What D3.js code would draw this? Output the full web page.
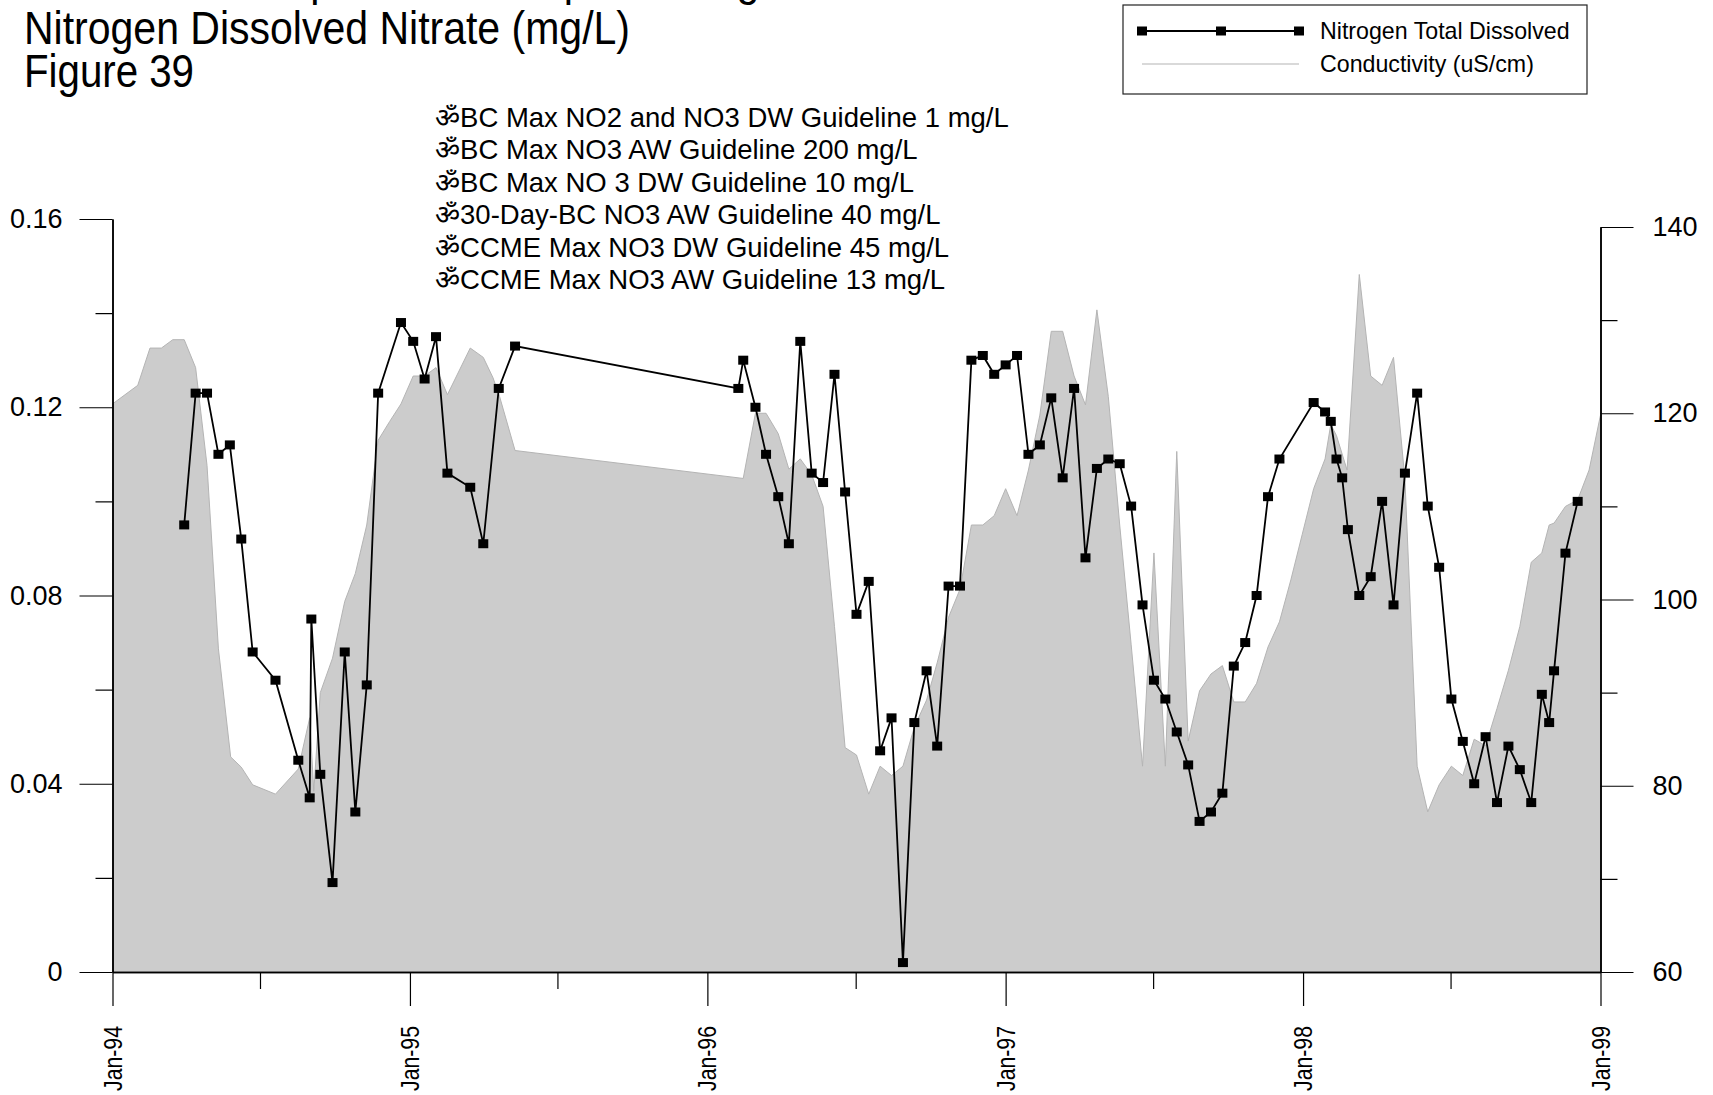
<!DOCTYPE html>
<html>
<head>
<meta charset="utf-8">
<script src="https://cdn.jsdelivr.net/npm/d3@7"></script>
<style>
  html, body { margin: 0; padding: 0; background: #fff; overflow: hidden; }
  svg { display: block; font-family: "Liberation Sans", Arial, "Noto Sans", sans-serif; }
</style>
</head>
<body>
<svg id="chart" width="1713" height="1095"></svg>
<script>
// ---------------- data ----------------
const titleLines = ["Temperature Comparison Against", "Nitrogen Dissolved Nitrate (mg/L)", "Figure 39"];
const guidelineLines = [
  "\u0950BC Max NO2 and NO3 DW Guideline 1 mg/L",
  "\u0950BC Max NO3 AW Guideline 200 mg/L",
  "\u0950BC Max NO 3 DW Guideline 10 mg/L",
  "\u095030-Day-BC NO3 AW Guideline 40 mg/L",
  "\u0950CCME Max NO3 DW Guideline 45 mg/L",
  "\u0950CCME Max NO3 AW Guideline 13 mg/L"
];
const legendLabels = ["Nitrogen Total Dissolved", "Conductivity (uS/cm)"];

const leftTicks = [0, 0.04, 0.08, 0.12, 0.16];
const leftMinorTicks = [0.02, 0.06, 0.10, 0.14];
const rightTicks = [60, 80, 100, 120, 140];
const rightMinorTicks = [70, 90, 110, 130];
const xTickLabels = ["Jan-94", "Jan-95", "Jan-96", "Jan-97", "Jan-98", "Jan-99"];
const xTickDates = ["1994-01-01", "1995-01-01", "1996-01-01", "1997-01-01", "1998-01-01", "1999-01-01"];
const xMinorDates = ["1994-07-01", "1995-07-01", "1996-07-01", "1997-07-01", "1998-07-01"];

const nitroDates = ["1994-03-30","1994-04-13","1994-04-27","1994-05-11","1994-05-25","1994-06-08","1994-06-22","1994-07-20","1994-08-17","1994-08-31","1994-09-02","1994-09-13","1994-09-28","1994-10-13","1994-10-26","1994-11-09","1994-11-23","1994-12-21","1995-01-05","1995-01-19","1995-02-02","1995-02-16","1995-03-16","1995-04-01","1995-04-20","1995-05-10",
"1996-02-08","1996-02-14","1996-02-29","1996-03-13","1996-03-28","1996-04-10","1996-04-24","1996-05-08","1996-05-22","1996-06-05","1996-06-18","1996-07-02","1996-07-17","1996-07-31","1996-08-14","1996-08-28","1996-09-11","1996-09-26","1996-10-09","1996-10-23","1996-11-06","1996-11-20","1996-12-04","1996-12-18",
"1997-01-01","1997-01-15","1997-01-29","1997-02-12","1997-02-26","1997-03-12","1997-03-26","1997-04-09","1997-04-23","1997-05-07","1997-05-21","1997-06-04","1997-06-18","1997-07-02","1997-07-16","1997-07-30","1997-08-13","1997-08-27","1997-09-10","1997-09-24","1997-10-08","1997-10-22","1997-11-05","1997-11-19","1997-12-03",
"1998-01-14","1998-01-28","1998-02-04","1998-02-11","1998-02-18","1998-02-25","1998-03-11","1998-03-25","1998-04-08","1998-04-22","1998-05-06","1998-05-21","1998-06-03","1998-06-17","1998-07-02","1998-07-16","1998-07-30","1998-08-13","1998-08-27","1998-09-10","1998-09-24","1998-10-08","1998-10-21","1998-10-30","1998-11-05","1998-11-19","1998-12-04"];
const nitroValues = [0.095,0.123,0.123,0.110,0.112,0.092,0.068,0.062,0.045,0.037,0.075,0.042,0.019,0.068,0.034,0.061,0.123,0.138,0.134,0.126,0.135,0.106,0.103,0.091,0.124,0.133,
0.124,0.130,0.120,0.110,0.101,0.091,0.134,0.106,0.104,0.127,0.102,0.076,0.083,0.047,0.054,0.002,0.053,0.064,0.048,0.082,0.082,0.130,0.131,0.127,
0.129,0.131,0.110,0.112,0.122,0.105,0.124,0.088,0.107,0.109,0.108,0.099,0.078,0.062,0.058,0.051,0.044,0.032,0.034,0.038,0.065,0.070,0.080,0.101,0.109,
0.121,0.119,0.117,0.109,0.105,0.094,0.080,0.084,0.100,0.078,0.106,0.123,0.099,0.086,0.058,0.049,0.040,0.050,0.036,0.048,0.043,0.036,0.059,0.053,0.064,0.089,0.100];

const condDates = ["1994-01-01","1994-02-01","1994-02-16","1994-03-02","1994-03-16","1994-03-30","1994-04-13","1994-04-27","1994-05-11","1994-05-26","1994-06-08","1994-06-22","1994-07-20","1994-08-17","1994-08-31","1994-09-05","1994-09-13","1994-09-28","1994-10-13","1994-10-26","1994-11-09","1994-11-23","1994-12-07","1994-12-21",
"1995-01-05","1995-01-19","1995-02-02","1995-02-16","1995-03-16","1995-04-01","1995-04-13","1995-04-21","1995-05-10",
"1996-02-14","1996-02-29","1996-03-13","1996-03-28","1996-04-10","1996-04-24","1996-05-08","1996-05-22","1996-06-05","1996-06-18","1996-07-02","1996-07-17","1996-07-31","1996-08-14","1996-08-28","1996-09-11","1996-09-26","1996-10-09","1996-10-23","1996-11-06","1996-11-20","1996-12-04","1996-12-18",
"1997-01-01","1997-01-15","1997-01-29","1997-02-12","1997-02-26","1997-03-12","1997-03-26","1997-04-09","1997-04-23","1997-05-07","1997-05-21","1997-06-04","1997-06-18","1997-07-02","1997-07-16","1997-07-30","1997-08-13","1997-08-27","1997-09-10","1997-09-24","1997-10-08","1997-10-22","1997-11-05","1997-11-19","1997-12-03","1997-12-17","1997-12-31",
"1998-01-14","1998-01-28","1998-02-04","1998-02-11","1998-02-24","1998-03-11","1998-03-25","1998-04-08","1998-04-22","1998-05-06","1998-05-21","1998-06-03","1998-06-17","1998-07-02","1998-07-16","1998-07-30","1998-08-13","1998-08-27","1998-09-10","1998-09-24","1998-10-08","1998-10-21","1998-10-30","1998-11-05","1998-11-19","1998-12-04","1998-12-18",
"1999-01-01"];
const condValues = [121.0,123.0,127.0,127.0,127.9,127.9,124.9,114.4,94.7,83.1,82.0,80.1,79.1,81.8,87.3,79.4,90.0,93.7,99.8,102.8,108.0,117.1,119.1,121.0,
124.0,124.0,124.9,122.0,127.0,126.0,123.8,121.8,116.0,
113.0,120.0,120.0,117.8,114.0,115.1,113.4,110.0,97.1,84.1,83.3,79.1,82.1,81.1,82.1,86.3,89.2,93.2,98.1,101.1,108.0,108.0,109.0,
111.9,109.0,113.9,119.8,128.8,128.8,124.0,120.9,131.1,121.8,108.0,95.2,82.1,105.0,82.1,115.9,84.8,90.2,92.0,92.9,89.0,89.0,91.0,94.9,97.6,102.1,107.0,
111.9,115.1,118.8,117.6,113.9,134.9,124.0,123.0,126.0,112.9,82.1,77.2,80.1,82.1,81.1,85.0,84.3,88.3,92.4,97.1,104.0,105.0,108.0,108.2,110.0,110.7,113.9,
119.8];

// ---------------- build ----------------
const parse = d3.timeParse("%Y-%m-%d");
const nitro = nitroDates.map((d, i) => ({ date: parse(d), value: nitroValues[i] }));
const cond = condDates.map((d, i) => ({ date: parse(d), value: condValues[i] }));

const svg = d3.select("#chart");
const FONT = "'Liberation Sans', Arial, 'Noto Sans', sans-serif";

const x = d3.scaleTime().domain([parse("1994-01-01"), parse("1999-01-01")]).range([112.5, 1600.5]);
const yL = d3.scaleLinear().domain([0, 0.16]).range([972, 219]);
const yR = d3.scaleLinear().domain([60, 140]).range([972, 227]);

// conductivity area
const area = d3.area().x(d => x(d.date)).y0(yR(60)).y1(d => yR(d.value));
const areaLine = d3.line().x(d => x(d.date)).y(d => yR(d.value));
svg.append("path").datum(cond).attr("d", area).attr("fill", "#cccccc");
svg.append("path").datum(cond).attr("d", areaLine).attr("fill", "none").attr("stroke", "#b4b4b4").attr("stroke-width", 1);

// axes
function styleAxis(g, fs) {
  g.selectAll("path.domain").attr("stroke", "#000").attr("stroke-width", 1.5);
  g.selectAll(".tick line").attr("stroke", "#000").attr("stroke-width", 1.2);
  g.selectAll(".tick text").attr("fill", "#000").style("font-family", FONT).style("font-size", fs + "px");
}
const fmtL = d => d === 0 ? "0" : d3.format(".2f")(d);

const gL = svg.append("g").attr("transform", "translate(112.5,0)")
  .call(d3.axisLeft(yL).tickValues(leftTicks).tickFormat(fmtL).tickSize(33).tickSizeOuter(0).tickPadding(17));
styleAxis(gL, 27);
const gLm = svg.append("g").attr("transform", "translate(112.5,0)")
  .call(d3.axisLeft(yL).tickValues(leftMinorTicks).tickFormat("").tickSize(17).tickSizeOuter(0));
styleAxis(gLm, 27);

const gR = svg.append("g").attr("transform", "translate(1600.5,0)")
  .call(d3.axisRight(yR).tickValues(rightTicks).tickSize(33).tickSizeOuter(0).tickPadding(19));
styleAxis(gR, 27);
const gRm = svg.append("g").attr("transform", "translate(1600.5,0)")
  .call(d3.axisRight(yR).tickValues(rightMinorTicks).tickFormat("").tickSize(17).tickSizeOuter(0));
styleAxis(gRm, 27);

const gX = svg.append("g").attr("transform", "translate(0,972)")
  .call(d3.axisBottom(x).tickValues(xTickDates.map(parse)).tickFormat("").tickSize(34).tickSizeOuter(0));
styleAxis(gX, 26);
const gXm = svg.append("g").attr("transform", "translate(0,972)")
  .call(d3.axisBottom(x).tickValues(xMinorDates.map(parse)).tickFormat("").tickSize(17).tickSizeOuter(0));
styleAxis(gXm, 26);

// rotated x labels
svg.append("g").selectAll("text").data(xTickDates).join("text")
  .attr("transform", d => `translate(${x(parse(d)) + 9},1026) rotate(-90)`)
  .attr("text-anchor", "end")
  .attr("textLength", 65).attr("lengthAdjust", "spacingAndGlyphs")
  .style("font-family", FONT).style("font-size", "25px")
  .text((d, i) => xTickLabels[i]);

// nitrogen line + markers
const line = d3.line().x(d => x(d.date)).y(d => yL(d.value));
svg.append("path").datum(nitro).attr("d", line).attr("fill", "none").attr("stroke", "#000").attr("stroke-width", 1.8);
svg.append("g").selectAll("rect").data(nitro).join("rect")
  .attr("x", d => x(d.date) - 5).attr("y", d => yL(d.value) - 4.5)
  .attr("width", 10).attr("height", 9).attr("fill", "#000");

// titles (first line is cut off by the top edge, as in the original)
svg.append("text").attr("x", 232).attr("y", -5)
  .style("font-family", FONT).style("font-size", "46px")
  .attr("textLength", 615).attr("lengthAdjust", "spacingAndGlyphs")
  .text(titleLines[0]);
svg.append("text").attr("x", 24).attr("y", 44)
  .style("font-family", FONT).style("font-size", "46px")
  .attr("textLength", 606).attr("lengthAdjust", "spacingAndGlyphs")
  .text(titleLines[1]);
svg.append("text").attr("x", 24).attr("y", 87)
  .style("font-family", FONT).style("font-size", "46px")
  .attr("textLength", 170).attr("lengthAdjust", "spacingAndGlyphs")
  .text(titleLines[2]);

// guideline notes
svg.append("g").selectAll("text").data(guidelineLines).join("text")
  .attr("x", 435).attr("y", (d, i) => 127 + i * 32.4)
  .style("font-family", FONT).style("font-size", "27.5px")
  .text(d => d);

// legend
const lg = svg.append("g");
lg.append("rect").attr("x", 1123).attr("y", 5).attr("width", 464).attr("height", 89)
  .attr("fill", "#fff").attr("stroke", "#222").attr("stroke-width", 1.2);
lg.append("line").attr("x1", 1142).attr("x2", 1299).attr("y1", 31).attr("y2", 31)
  .attr("stroke", "#000").attr("stroke-width", 1.8);
lg.selectAll("rect.mk").data([1142, 1221, 1299]).join("rect").attr("class", "mk")
  .attr("x", d => d - 5).attr("y", 26.5).attr("width", 10).attr("height", 9).attr("fill", "#000");
lg.append("line").attr("x1", 1142).attr("x2", 1299).attr("y1", 64).attr("y2", 64)
  .attr("stroke", "#cccccc").attr("stroke-width", 1.5);
lg.selectAll("text").data(legendLabels).join("text")
  .attr("x", 1320).attr("y", (d, i) => 39 + i * 33)
  .style("font-family", FONT).style("font-size", "23.2px")
  .text(d => d);
</script>
</body>
</html>
